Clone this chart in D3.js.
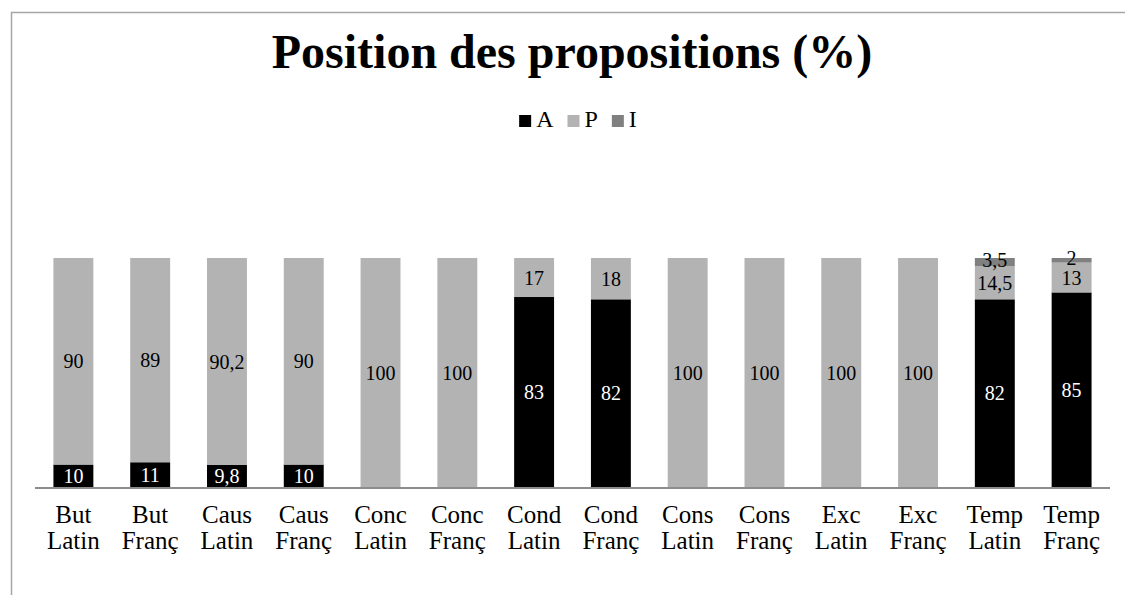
<!DOCTYPE html>
<html>
<head>
<meta charset="utf-8">
<script src="https://cdn.jsdelivr.net/npm/d3@7"></script>
<style>
  html, body { margin: 0; padding: 0; background: #fff; }
  svg { display: block; }
  text { font-family: "Liberation Serif", "Times New Roman", serif; }
</style>
</head>
<body>
<svg id="chart" width="1125" height="595"></svg>
<script>
// Categories (two-line labels) and stacked shares in percent
const categories = [
  "But Latin", "But Franç", "Caus Latin", "Caus Franç", "Conc Latin", "Conc Franç",
  "Cond Latin", "Cond Franç", "Cons Latin", "Cons Franç", "Exc Latin", "Exc Franç",
  "Temp Latin", "Temp Franç"
];
const seriesA = [10, 11, 9.8, 10, 0, 0, 83, 82, 0, 0, 0, 0, 82, 85];
const seriesP = [90, 89, 90.2, 90, 100, 100, 17, 18, 100, 100, 100, 100, 14.5, 13];
const seriesI = [0, 0, 0, 0, 0, 0, 0, 0, 0, 0, 0, 0, 3.5, 2];
const seriesNames = ["A", "P", "I"];
const seriesColors = ["#000000", "#b3b3b3", "#808080"];
const labelColors = ["#ffffff", "#000000", "#000000"];

const svg = d3.select("#chart");
const W = 1125, H = 595;

// Chart frame
svg.append("rect")
  .attr("x", 11.5).attr("y", 12.5)
  .attr("width", W + 20).attr("height", H + 20)
  .attr("fill", "none").attr("stroke", "#a6a6a6").attr("stroke-width", 1.5);

const x = d3.scaleBand()
  .domain(categories)
  .range([35, 1110])
  .paddingInner(0.48)
  .paddingOuter(0.24);

const y = d3.scaleLinear().domain([0, 100]).range([487.5, 258]);

const table = categories.map((c, i) => ({ cat: c, A: seriesA[i], P: seriesP[i], I: seriesI[i] }));
const stacked = d3.stack().keys(seriesNames)(table);

const fmt = v => String(v).replace(".", ",");

const layers = svg.append("g").selectAll("g")
  .data(stacked)
  .join("g")
  .attr("fill", (d, i) => seriesColors[i]);

layers.selectAll("rect")
  .data(d => d.filter(s => s[1] - s[0] > 0))
  .join("rect")
  .attr("x", d => x(d.data.cat))
  .attr("width", x.bandwidth())
  .attr("y", d => y(d[1]))
  .attr("height", d => y(d[0]) - y(d[1]));

// Value labels centred in each segment (the thin top segment sits slightly higher)
const labelShift = [0, 0, -2];
stacked.forEach((layer, li) => {
  svg.append("g").selectAll("text")
    .data(layer.filter(s => s[1] - s[0] > 0))
    .join("text")
    .attr("x", d => x(d.data.cat) + x.bandwidth() / 2)
    .attr("y", d => (y(d[0]) + y(d[1])) / 2 + labelShift[li])
    .attr("dy", "0.35em")
    .attr("text-anchor", "middle")
    .attr("font-size", 20)
    .attr("fill", labelColors[li])
    .text(d => fmt(d[1] - d[0]));
});

// Category axis
const axis = svg.append("g").attr("transform", "translate(0,488)");
axis.append("line")
  .attr("x1", 35).attr("x2", 1110)
  .attr("stroke", "#8c8c8c").attr("stroke-width", 2);

const labels = axis.selectAll("text.cat")
  .data(categories)
  .join("text")
  .attr("class", "cat")
  .attr("text-anchor", "middle")
  .attr("font-size", 25)
  .attr("fill", "#000");
labels.each(function (d) {
  const parts = d.split(" ");
  const t = d3.select(this);
  const cx = x(d) + x.bandwidth() / 2;
  t.append("tspan").attr("x", cx).attr("y", 35).text(parts[0]);
  t.append("tspan").attr("x", cx).attr("y", 61).text(parts[1]);
});

// Title
svg.append("text")
  .attr("x", 572).attr("y", 68)
  .attr("text-anchor", "middle")
  .attr("font-size", 48)
  .attr("font-weight", "bold")
  .text("Position des propositions (%)");

// Legend
const legend = svg.append("g");
let lx = 0;
seriesNames.forEach((name, i) => {
  const g = legend.append("g").attr("transform", `translate(${lx},0)`);
  g.append("rect").attr("x", 0).attr("y", 115).attr("width", 12).attr("height", 12)
    .attr("fill", seriesColors[i]);
  const t = g.append("text").attr("x", 17).attr("y", 127)
    .attr("font-size", 24).text(name);
  lx += 17 + t.node().getComputedTextLength() + 14;
});
const legendW = lx - 14;
legend.attr("transform", `translate(${578 - legendW / 2},0)`);
</script>
</body>
</html>
